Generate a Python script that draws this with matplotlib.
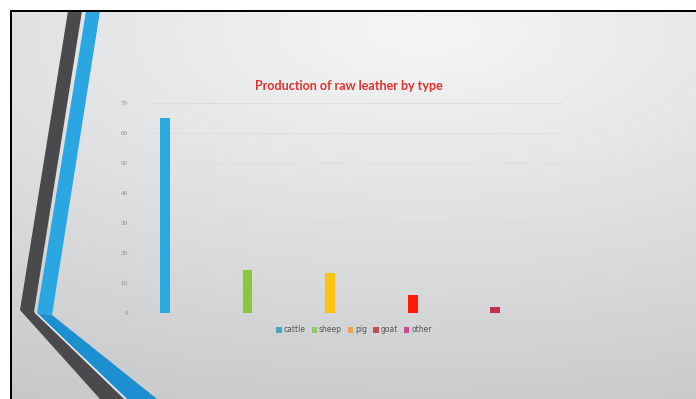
import numpy as np
import matplotlib
matplotlib.use("Agg")
import matplotlib.pyplot as plt
from matplotlib.patches import Polygon, Rectangle

# Data
types = ['cattle', 'sheep', 'pig', 'goat', 'other']
production = [65, 14.5, 13.3, 6, 2]
bar_colors = ['#29a9e1', '#8cc63f', '#ffc20e', '#ff1a0a', '#c0304a']
legend_colors = ['#4aa6b8', '#8fcb6e', '#eaa452', '#c0504d', '#d24a8c']
y_ticks = [0, 10, 20, 30, 40, 50, 60, 70]

W, H = 696, 399
fig = plt.figure(figsize=(W / 100, H / 100), dpi=100)
fig.patch.set_facecolor('white')

# Slide background (gradient) in pixel coordinates
bg = fig.add_axes([0, 0, 1, 1])
bg.set_xlim(0, W)
bg.set_ylim(H, 0)
bg.axis('off')
xx, yy = np.meshgrid(np.linspace(0, 1, 200), np.linspace(0, 1, 120))
dist = np.sqrt(((xx - 0.6) / 1.3) ** 2 + ((yy - 0.05) / 1.0) ** 2)
shade = 0.96 - 0.17 * dist
rgb = np.dstack([shade, shade + 0.004, shade + 0.008]).clip(0, 1)
bg.imshow(rgb, extent=[11, W, H, 11], aspect='auto', zorder=0)

# Decorative stripes
dark = Polygon([(68, 11), (82, 11), (34, 312), (124, H), (100, H), (20, 310)],
               closed=True, facecolor='#4a4a4c', edgecolor='none', zorder=1)
blue_v = Polygon([(86, 11), (100, 11), (52, 315), (37, 313)],
                 closed=True, facecolor='#2aa7e3', edgecolor='none', zorder=1)
blue_d = Polygon([(37, 313), (52, 315), (157, H), (127, H)],
                 closed=True, facecolor='#1b8fd0', edgecolor='none', zorder=1)
bg.add_patch(dark)
bg.add_patch(blue_v)
bg.add_patch(blue_d)
bg.plot([36, 126], [313, H], color='#e8f4fb', lw=0.8, zorder=2)

# Black frame (top and left)
bg.add_patch(Rectangle((10, 10), W - 10, 2, facecolor='black', edgecolor='none', zorder=3))
bg.add_patch(Rectangle((10, 10), 2, H - 10, facecolor='black', edgecolor='none', zorder=3))

# Chart
ax = fig.add_axes([150 / W, 86 / H, 413 / W, 210 / H])
ax.patch.set_alpha(0)
x = np.arange(len(types))
ax.bar(x, production, width=0.12, color=bar_colors, zorder=3)
ax.set_xlim(-0.18, 4.82)
ax.set_ylim(0, 70)
ax.set_yticks(y_ticks)
ax.set_yticklabels([str(t) for t in y_ticks], fontsize=5, color='#888888',
                   family='Liberation Serif')
ax.tick_params(axis='y', length=0, pad=16)
ax.set_xticks([])
for s in ax.spines.values():
    s.set_visible(False)
ax.grid(axis='y', color='#dcdcdc', lw=0.6, zorder=0)

fig.text(349 / W, 1 - 86 / H, 'Production of raw leather by type', ha='center', va='center',
         fontsize=9, fontweight='bold', color='#e0312f', family='Lato')

# Legend
handles = [Rectangle((0, 0), 1, 1, facecolor=c) for c in legend_colors]
fig.legend(handles, types, loc='center', bbox_to_anchor=(354 / W, 1 - 330 / H), ncol=5,
           frameon=False, fontsize=5.5, handlelength=0.7, handleheight=0.7,
           handletextpad=0.25, columnspacing=0.8, labelcolor='#555555')

fig.savefig('out.png', dpi=100)
